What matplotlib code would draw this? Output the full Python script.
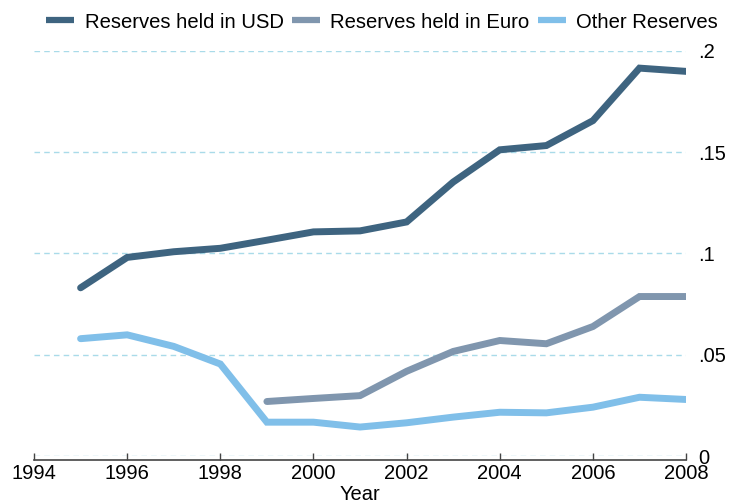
import numpy as np
import matplotlib
matplotlib.use("Agg")
import matplotlib.pyplot as plt
from matplotlib.lines import Line2D

plt.rcParams['font.family'] = ['Liberation Sans', 'DejaVu Sans']
plt.rcParams['xtick.labelsize'] = 14.5
plt.rcParams['ytick.labelsize'] = 14.5

# data
years = [1995, 1996, 1997, 1998, 1999, 2000, 2001, 2002, 2003, 2004, 2005, 2006, 2007, 2008]
usd = [0.0830, 0.0980, 0.1008, 0.1025, 0.1065, 0.1106, 0.1111, 0.1155, 0.1352, 0.1511,
       0.1532, 0.1655, 0.1914, 0.1898]
euro_years = [1999, 2000, 2001, 2002, 2003, 2004, 2005, 2006, 2007, 2008]
euro = [0.0269, 0.0284, 0.0298, 0.0418, 0.0516, 0.0570, 0.0554, 0.0639, 0.0787, 0.0787]
other = [0.0579, 0.0598, 0.0541, 0.0454, 0.0167, 0.0167, 0.0143, 0.0164, 0.0192, 0.0216,
         0.0213, 0.0241, 0.0290, 0.0279]

labels = ["Reserves held in USD", "Reserves held in Euro", "Other Reserves"]
colors = ["#3e6480", "#8096ae", "#80bfe9"]
xticks = np.arange(1994, 2009, 2)
yticks = [0, 0.05, 0.1, 0.15, 0.2]
ytick_labels = ["0", ".05", ".1", ".15", ".2"]

fig = plt.figure(figsize=(7.33, 5.03), dpi=100)
ax = fig.add_axes([0.0464, 0.0934, 0.936 - 0.0464, 0.8992 - 0.0934])

ax.plot(years, usd, color=colors[0], lw=5, solid_capstyle='round', solid_joinstyle='miter', zorder=3)
ax.plot(euro_years, euro, color=colors[1], lw=5, solid_capstyle='round', solid_joinstyle='miter', zorder=3)
ax.plot(years, other, color=colors[2], lw=5, solid_capstyle='round', solid_joinstyle='miter', zorder=3)

ax.set_xlim(1994, 2008)
ax.set_ylim(0, 0.2)

for y in yticks:
    ax.axhline(y, color="#a9dbe9", lw=1, ls=(0, (4, 3)), zorder=1)

ax.set_xticks(xticks)
ax.set_xticklabels([str(x) for x in xticks])
ax.tick_params(axis='x', direction='in', length=5, width=1, color="#444444", pad=3,
               labelsize=14.5)

ax.yaxis.tick_right()
ax.set_yticks(yticks)
ax.set_yticklabels(ytick_labels)
ax.tick_params(axis='y', length=0, pad=9, labelsize=14.5)

for s in ['top', 'left', 'right']:
    ax.spines[s].set_visible(False)
ax.spines['bottom'].set_position(('outward', 3))
ax.spines['bottom'].set_color("#444444")
ax.spines['bottom'].set_linewidth(1.2)

ax.set_xlabel("Year", fontsize=14.5, labelpad=1)

handles = [Line2D([], [], color=c, lw=4.5, solid_capstyle='butt') for c in colors]
fig.legend(handles, labels, loc='center left', bbox_to_anchor=(46 / 733, 1 - 22 / 503),
           frameon=False, fontsize=14.6, ncol=3, handlelength=1.4, handletextpad=0.5,
           columnspacing=0.4, borderpad=0, borderaxespad=0)

fig.savefig("out.png", dpi=100)
